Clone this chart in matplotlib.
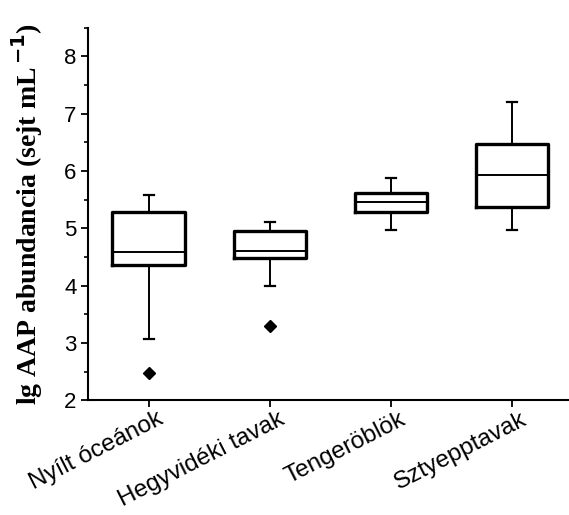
import matplotlib
matplotlib.use("Agg")
import matplotlib.pyplot as plt
import matplotlib.transforms as mtransforms
from matplotlib.ticker import MultipleLocator

# box statistics (lg cells/mL)
categories = ["Nyílt óceánok", "Hegyvidéki tavak", "Tengeröblök", "Sztyepptavak"]
whisker_low = [3.07, 3.99, 4.97, 4.97]
q1 = [4.36, 4.48, 5.29, 5.37]
medians = [4.59, 4.61, 5.46, 5.93]
q3 = [5.29, 4.95, 5.62, 6.47]
whisker_high = [5.58, 5.11, 5.88, 7.21]
outliers = [[2.47], [3.29], [], []]

stats = []
for i, name in enumerate(categories):
    stats.append({"label": name, "whislo": whisker_low[i], "q1": q1[i], "med": medians[i],
                  "q3": q3[i], "whishi": whisker_high[i], "fliers": outliers[i]})

fig = plt.figure(figsize=(5.69, 5.15), dpi=100)
ax = fig.add_axes([0.155, 0.223, 0.845, 0.723])

ax.bxp(stats, positions=[1, 2, 3, 4], widths=0.6, showfliers=True,
       boxprops=dict(color="black", linewidth=2.4),
       medianprops=dict(color="black", linewidth=1.4),
       whiskerprops=dict(color="black", linewidth=1.4),
       capprops=dict(color="black", linewidth=1.6),
       flierprops=dict(marker="D", markerfacecolor="black", markeredgecolor="black", markersize=6),
       capwidths=0.08)

ax.set_xlim(0.5, 4.47)
ax.set_ylim(2, 8.5)
ax.yaxis.set_major_locator(MultipleLocator(1))
ax.yaxis.set_minor_locator(MultipleLocator(0.5))

for s in ["top", "right"]:
    ax.spines[s].set_visible(False)
for s in ["left", "bottom"]:
    ax.spines[s].set_linewidth(1.5)

ax.tick_params(axis="both", direction="out", width=1.3, length=5, labelsize=16)
ax.tick_params(axis="y", which="minor", direction="out", width=1.2, length=3)
ax.set_xticks([1, 2, 3, 4])
ax.set_xticklabels(categories, rotation=27, ha="right", rotation_mode="anchor",
                   fontfamily="Liberation Sans", fontsize=17.5)
# nudge the slanted labels right like in the original, keep them inside the canvas
offset = mtransforms.ScaledTranslation(8 / 100, 4 / 100, fig.dpi_scale_trans)
for lab in ax.get_xticklabels():
    lab.set_transform(lab.get_transform() + offset)
for lab in ax.get_yticklabels():
    lab.set_fontfamily("Liberation Sans")

ax.set_ylabel("lg AAP abundancia (sejt mL$^{\\,\\mathbf{-1}}$)", fontfamily="Liberation Serif",
              fontweight="bold", fontsize=20, labelpad=14)

fig.savefig("out.png", dpi=100)
